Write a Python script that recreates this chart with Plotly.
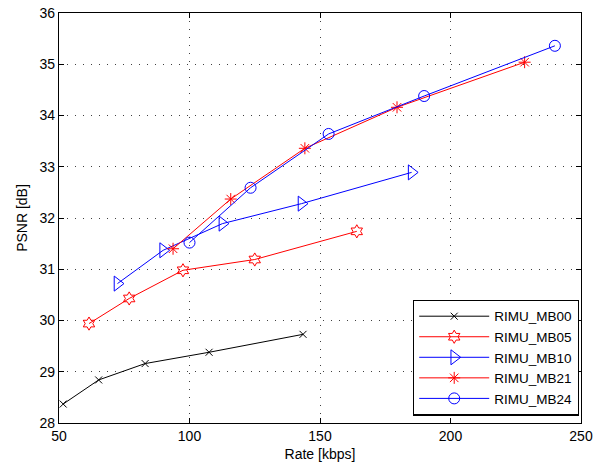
import plotly.graph_objects as go

series_names = ["RIMU_MB00", "RIMU_MB05", "RIMU_MB10", "RIMU_MB21", "RIMU_MB24"]
rate_mb00 = [51.6, 65.2, 83.0, 107.5, 143.5]
psnr_mb00 = [28.37, 28.84, 29.16, 29.38, 29.73]
rate_mb05 = [61.5, 76.9, 97.5, 125.0, 164.1]
psnr_mb05 = [29.94, 30.43, 30.98, 31.19, 31.74]
rate_mb10 = [72.4, 89.9, 112.6, 142.9, 185.1]
psnr_mb10 = [30.72, 31.37, 31.89, 32.28, 32.89]
rate_mb21 = [93.7, 115.8, 144.2, 179.5, 228.4]
psnr_mb21 = [31.40, 32.37, 33.36, 34.16, 35.04]
rate_mb24 = [100.0, 123.4, 153.3, 189.9, 240.0]
psnr_mb24 = [31.52, 32.59, 33.64, 34.38, 35.36]

x_ticks = [50, 100, 150, 200, 250]
y_ticks = [28, 29, 30, 31, 32, 33, 34, 35, 36]

styles = [
    ("black", "x-thin-open", 7),
    ("red", "hexagram-open", 10),
    ("blue", "triangle-right-open", 13),
    ("red", "asterisk-open", 10),
    ("blue", "circle-open", 11),
]
data = [(rate_mb00, psnr_mb00), (rate_mb05, psnr_mb05), (rate_mb10, psnr_mb10),
        (rate_mb21, psnr_mb21), (rate_mb24, psnr_mb24)]

fig = go.Figure()
for name, (xs, ys), (col, sym, sz) in zip(series_names, data, styles):
    fig.add_trace(go.Scatter(
        x=xs, y=ys, name=name, mode="lines+markers",
        line=dict(color=col, width=1),
        marker=dict(symbol=sym, size=sz, color=col, line=dict(color=col, width=1)),
    ))

axis_common = dict(
    showline=True, linecolor="black", linewidth=1.3, mirror="ticks",
    ticks="inside", ticklen=5, tickcolor="black",
    showgrid=True, gridcolor="rgba(0,0,0,0.75)", gridwidth=1, griddash="1px,7px",
    zeroline=False, tickfont=dict(size=14, color="black"), automargin=False,
)
fig.update_xaxes(range=[50, 250], tickvals=x_ticks,
                 title=dict(text="Rate [kbps]", font=dict(size=14, color="black"), standoff=6),
                 **axis_common)
fig.update_yaxes(range=[28, 36], tickvals=y_ticks,
                 title=dict(text="PSNR [dB]", font=dict(size=14, color="black"), standoff=8),
                 **axis_common)

fig.update_layout(
    width=593, height=468,
    margin=dict(l=59, r=12, t=13, b=45, autoexpand=False),
    paper_bgcolor="white", plot_bgcolor="white",
    font=dict(family="Liberation Sans, Arial, sans-serif", size=14, color="black"),
    legend=dict(x=0.996, y=0.018, xanchor="right", yanchor="bottom",
                bgcolor="white", bordercolor="black", borderwidth=1.3,
                font=dict(size=13.5), tracegroupgap=0, itemwidth=70),
)
fig.write_html("out.html")
